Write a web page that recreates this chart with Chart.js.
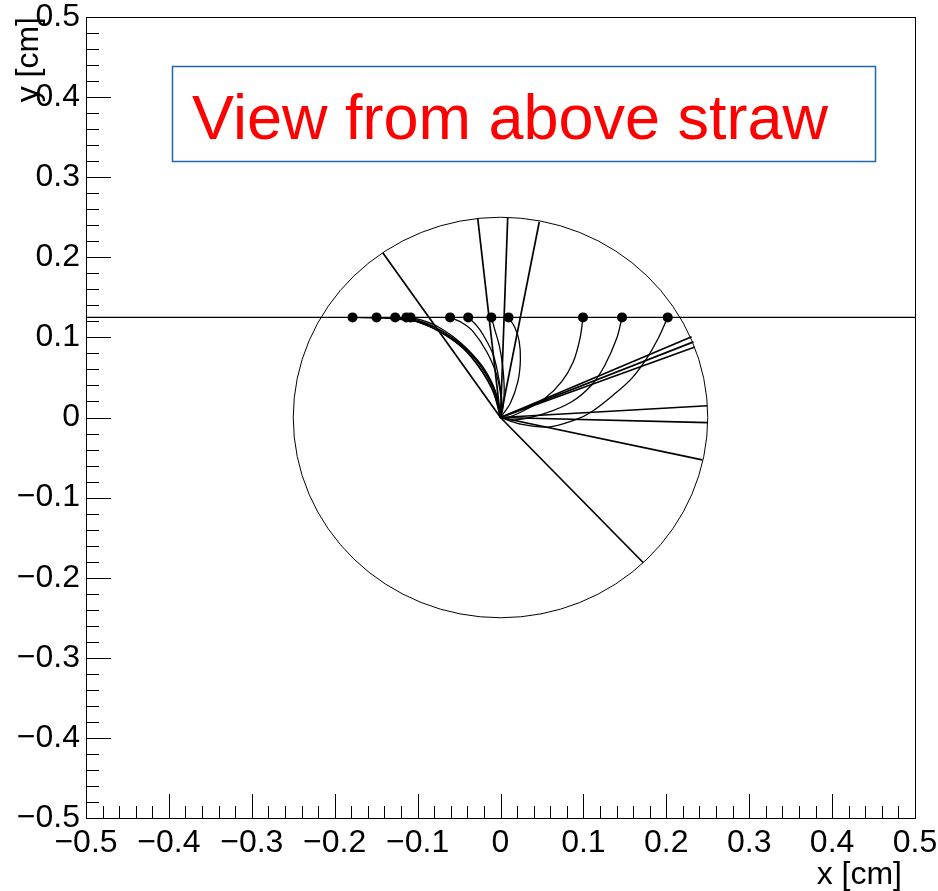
<!DOCTYPE html>
<html>
<head>
<meta charset="utf-8">
<script src="https://cdn.jsdelivr.net/npm/chart.js@4.4.1/dist/chart.umd.min.js"></script>
<style>
  html, body { margin: 0; padding: 0; background: #fff; }
  #straw { display: block; }
</style>
</head>
<body>
<canvas id="straw" width="938" height="891"></canvas>
<script>
const FONT = '"Liberation Sans", Arial, Helvetica, sans-serif';

// straw wall radius and the track crossing it
const strawRadius = 0.25;
const trackY = 0.125;

// ionisation clusters on the track
const hitX = [-0.1785, -0.1495, -0.127, -0.1135, -0.1085, -0.0608, -0.039, -0.011, 0.0097, 0.0995, 0.1466, 0.2017];

// straight lines from the wire out to the wall
const rayEndX = [-0.142, -0.0275, 0.0087, 0.0468, 0.2306, 0.2328, 0.2345, 0.2495, 0.2499, 0.2434, 0.1723];
const rayEndY = [0.2057, 0.249, 0.250, 0.2444, 0.1009, 0.0944, 0.0880, 0.0147, -0.0065, -0.053, -0.1813];

// drift paths, one per cluster
const driftX = [
  [-0.1785, -0.15, -0.125, -0.101, -0.073, -0.045, -0.025, -0.009, 0],
  [-0.1495, -0.125, -0.1, -0.073, -0.045, -0.0245, -0.0085, 0],
  [-0.127, -0.11, -0.095, -0.071, -0.043, -0.023, -0.0075, 0],
  [-0.1135, -0.098, -0.08, -0.059, -0.039, -0.021, -0.0065, 0],
  [-0.1085, -0.094, -0.077, -0.057, -0.038, -0.020, -0.006, 0],
  [-0.0608, -0.046, -0.033, -0.0166, -0.0046, 0.001, 0],
  [-0.039, -0.029, -0.0208, -0.0087, -0.0014, 0.002, 0],
  [-0.011, -0.007, -0.0015, 0.0025, 0.0045, 0.003, 0],
  [0.0097, 0.0175, 0.0225, 0.024, 0.021, 0.012, 0],
  [0.0995, 0.0959, 0.0878, 0.0738, 0.0537, 0.0256, 0.0054, 0],
  [0.1466, 0.1402, 0.126, 0.11, 0.0859, 0.0537, 0.0175, 0],
  [0.2017, 0.1903, 0.1764, 0.1583, 0.1361, 0.11, 0.0899, 0.0573, 0.0235, 0]
];
const driftY = [
  [0.125, 0.1243, 0.1228, 0.1196, 0.1068, 0.0862, 0.0612, 0.032, 0],
  [0.125, 0.1237, 0.1195, 0.1072, 0.0866, 0.0617, 0.0325, 0],
  [0.125, 0.1225, 0.1188, 0.108, 0.0878, 0.0628, 0.0335, 0],
  [0.125, 0.1208, 0.1135, 0.1, 0.0825, 0.0605, 0.032, 0],
  [0.125, 0.1212, 0.1142, 0.1008, 0.0834, 0.0612, 0.0325, 0],
  [0.125, 0.118, 0.1073, 0.0821, 0.053, 0.02, 0],
  [0.125, 0.115, 0.103, 0.078, 0.0447, 0.015, 0],
  [0.125, 0.11, 0.09, 0.065, 0.035, 0.012, 0],
  [0.125, 0.112, 0.0955, 0.072, 0.045, 0.018, 0],
  [0.125, 0.0989, 0.0697, 0.0447, 0.024, 0.0072, -0.001, 0],
  [0.125, 0.0989, 0.0655, 0.0406, 0.0197, 0.0052, -0.0031, 0],
  [0.125, 0.0989, 0.0739, 0.0489, 0.0281, 0.0072, -0.0031, -0.0119, -0.0081, 0]
];

const axisMin = -0.5, axisMax = 0.5;

function fmt(v) {
  if (Math.abs(v) < 1e-9) return '0';
  return (v < 0 ? '\u2212' : '') + Math.abs(v).toFixed(1);
}

let datasets = [];

// track line across the whole frame
datasets.push({
  data: [{x: axisMin, y: trackY}, {x: axisMax, y: trackY}],
  showLine: true, borderColor: '#000', borderWidth: 1.2, pointRadius: 0
});

for (let i = 0; i < rayEndX.length; i++) {
  datasets.push({
    data: [{x: 0, y: 0}, {x: rayEndX[i], y: rayEndY[i]}],
    showLine: true, borderColor: '#000', borderWidth: 1.7, pointRadius: 0
  });
}

for (let i = 0; i < driftX.length; i++) {
  datasets.push({
    data: driftX[i].map((x, j) => ({x: x, y: driftY[i][j]})),
    showLine: true, borderColor: '#000', borderWidth: 1.3, pointRadius: 0, tension: 0.35
  });
}

datasets.push({
  data: hitX.map(x => ({x: x, y: trackY})),
  showLine: false, pointRadius: 5, pointBackgroundColor: '#000', pointBorderWidth: 0
});

const strawPlugin = {
  id: 'straw',
  beforeDatasetsDraw(chart) {
    const ctx = chart.ctx;
    const x = chart.scales.x, y = chart.scales.y;
    const cx = x.getPixelForValue(0), cy = y.getPixelForValue(0);
    const rx = x.getPixelForValue(strawRadius) - cx;
    const ry = cy - y.getPixelForValue(strawRadius);
    ctx.save();
    ctx.beginPath();
    ctx.ellipse(cx, cy, rx, ry, 0, 0, Math.PI * 2);
    ctx.strokeStyle = '#000';
    ctx.lineWidth = 1;
    ctx.stroke();
    ctx.restore();
  },
  afterDraw(chart) {
    const ctx = chart.ctx;
    const a = chart.chartArea;
    const x = chart.scales.x, y = chart.scales.y;
    ctx.save();
    ctx.strokeStyle = '#000';
    ctx.lineWidth = 1;
    ctx.strokeRect(Math.round(a.left) + 0.5, Math.round(a.top) + 0.5,
                   Math.round(a.right - a.left), Math.round(a.bottom - a.top));

    // ROOT style ticks drawn inside the frame
    ctx.beginPath();
    for (let i = 0; i <= 50; i++) {
      const v = axisMin + i * 0.02;
      const major = i % 5 === 0;
      const px = Math.round(x.getPixelForValue(v)) + 0.5;
      ctx.moveTo(px, a.bottom);
      ctx.lineTo(px, a.bottom - (major ? 24 : 12));
      const py = Math.round(y.getPixelForValue(v)) + 0.5;
      ctx.moveTo(a.left, py);
      ctx.lineTo(a.left + (major ? 25 : 13), py);
    }
    ctx.stroke();

    // axis titles
    ctx.fillStyle = '#000';
    ctx.font = '32px ' + FONT;
    ctx.textAlign = 'right';
    ctx.textBaseline = 'alphabetic';
    ctx.fillText('x [cm]', a.right - 13, 884);
    ctx.translate(38, a.top);
    ctx.rotate(-Math.PI / 2);
    ctx.fillText('y [cm]', 0, 0);
    ctx.restore();

    // label box
    ctx.save();
    ctx.fillStyle = '#fff';
    ctx.fillRect(172, 66, 704, 96);
    ctx.strokeStyle = '#2166ac';
    ctx.lineWidth = 1.5;
    ctx.strokeRect(172.5, 66.5, 703, 95);
    ctx.fillStyle = '#ff0000';
    ctx.font = '63px ' + FONT;
    ctx.textAlign = 'left';
    ctx.textBaseline = 'alphabetic';
    ctx.fillText('View from above straw', 192, 139);
    ctx.restore();
  }
};

const config = {
  type: 'scatter',
  data: { datasets: datasets },
  options: {
    responsive: false,
    animation: false,
    layout: { padding: { top: 17, right: 23, left: 0, bottom: 0 } },
    plugins: { legend: { display: false }, tooltip: { enabled: false } },
    scales: {
      x: {
        type: 'linear', min: axisMin, max: axisMax,
        grid: { display: false, drawTicks: false },
        border: { display: false },
        ticks: {
          stepSize: 0.1, autoSkip: false, maxRotation: 0, padding: 6,
          color: '#000', font: { family: FONT, size: 32 }, callback: fmt
        },
        afterFit: s => { s.height = 73; s.paddingLeft = 0; s.paddingRight = 0; }
      },
      y: {
        type: 'linear', min: axisMin, max: axisMax,
        grid: { display: false, drawTicks: false },
        border: { display: false },
        ticks: {
          stepSize: 0.1, autoSkip: false, padding: 6,
          color: '#000', font: { family: FONT, size: 32 }, callback: fmt
        },
        afterFit: s => { s.width = 86; s.paddingTop = 0; s.paddingBottom = 0; }
      }
    }
  },
  plugins: [strawPlugin]
};

const strawChart = new Chart(document.getElementById('straw').getContext('2d'), config);
</script>
</body>
</html>
